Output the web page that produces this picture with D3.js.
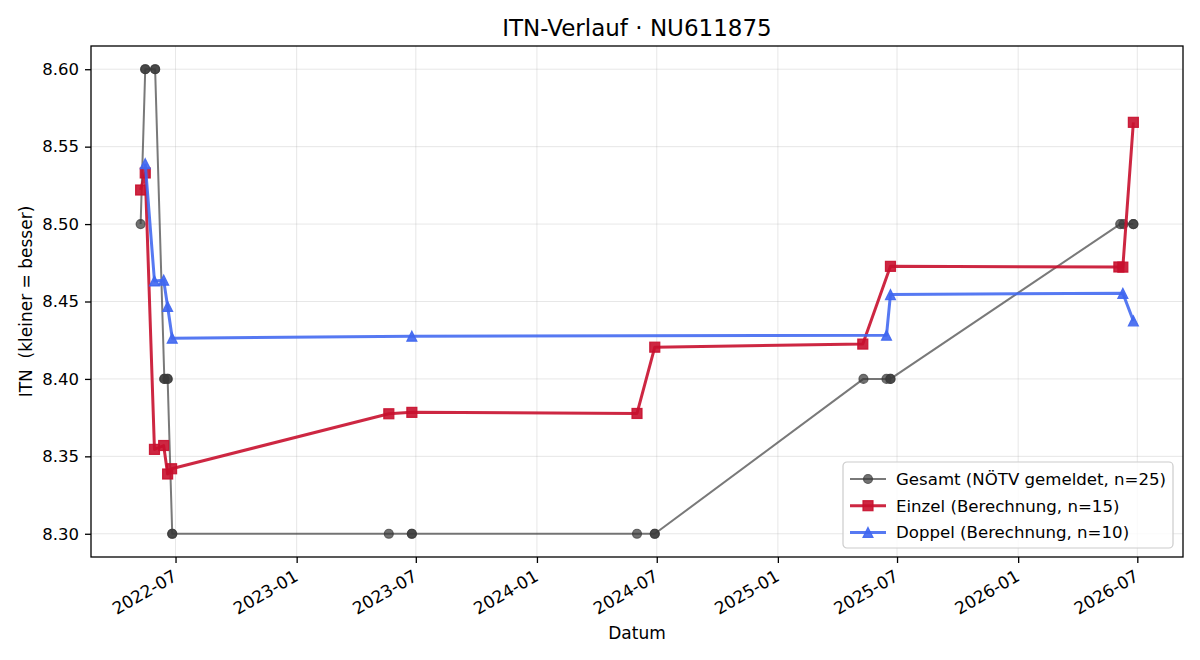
<!DOCTYPE html>
<html>
<head>
<meta charset="utf-8">
<script src="https://cdn.jsdelivr.net/npm/d3@7"></script>
<style>
  body { margin: 0; background: #fff; }
  text { font-family: "DejaVu Sans", sans-serif; }
</style>
</head>
<body>
<div id="chart"></div>
<script>
// data
var gesamtDates = ["2022-05-09", "2022-05-16", "2022-05-16", "2022-05-31", "2022-05-31",
  "2022-06-14", "2022-06-14", "2022-06-19", "2022-06-19", "2022-06-26", "2022-06-26",
  "2023-05-21", "2023-06-25", "2023-06-25", "2024-06-01", "2024-06-28", "2024-06-28",
  "2025-05-11", "2025-06-15", "2025-06-21", "2025-06-21",
  "2026-06-05", "2026-06-10", "2026-06-25", "2026-06-25"];
var gesamtValues = [8.50, 8.60, 8.60, 8.60, 8.60,
  8.40, 8.40, 8.40, 8.40, 8.30, 8.30,
  8.30, 8.30, 8.30, 8.30, 8.30, 8.30,
  8.40, 8.40, 8.40, 8.40,
  8.50, 8.50, 8.50, 8.50];

var einzelDates = ["2022-05-09", "2022-05-16", "2022-05-30", "2022-06-13", "2022-06-19",
  "2022-06-25", "2023-05-21", "2023-06-25", "2024-06-01", "2024-06-28",
  "2025-05-10", "2025-06-21", "2026-06-03", "2026-06-09", "2026-06-25"];
var einzelValues = [8.522, 8.533, 8.3545, 8.357, 8.3386,
  8.342, 8.3775, 8.3784, 8.3777, 8.4205,
  8.4225, 8.4727, 8.4723, 8.4722, 8.5657];

var doppelDates = ["2022-05-16", "2022-05-30", "2022-06-13", "2022-06-19", "2022-06-26",
  "2023-06-25", "2025-06-15", "2025-06-21", "2026-06-09", "2026-06-25"];
var doppelValues = [8.539, 8.4633, 8.4638, 8.4468, 8.4263,
  8.4276, 8.4282, 8.4545, 8.4553, 8.4375];

var yTicks = [8.30, 8.35, 8.40, 8.45, 8.50, 8.55, 8.60];
var xTickLabels = ["2022-07", "2023-01", "2023-07", "2024-01", "2024-07",
  "2025-01", "2025-07", "2026-01", "2026-07"];
var seriesNames = ["Gesamt (NÖTV gemeldet, n=25)", "Einzel (Berechnung, n=15)", "Doppel (Berechnung, n=10)"];

var margin = {top: 46, right: 17, bottom: 103, left: 91},
  width = 1200 - margin.left - margin.right,
  height = 660 - margin.top - margin.bottom;

var parse = d3.timeParse("%Y-%m-%d");
function zip(ds, vs) { return ds.map(function(d, i) { return {date: parse(d), value: vs[i]}; }); }

var series = [
  {name: seriesNames[0], data: zip(gesamtDates, gesamtValues), color: "#3a3a3a", lw: 2, lop: 0.68, mop: 0.72, shape: "circle"},
  {name: seriesNames[1], data: zip(einzelDates, einzelValues), color: "#c8102e", lw: 3, lop: 0.9, mop: 0.9, shape: "square"},
  {name: seriesNames[2], data: zip(doppelDates, doppelValues), color: "#3f66f0", lw: 3, lop: 0.88, mop: 0.9, shape: "triangle"}
];

var svg = d3.select("#chart")
  .append("svg")
  .attr("width", 1200)
  .attr("height", 660);

var g = svg.append("g")
  .attr("transform", "translate(" + margin.left + "," + margin.top + ")");

// matplotlib-like 5% padding
var allPts = d3.merge(series.map(function(s) { return s.data; }));
var xExt = d3.extent(allPts, function(d) { return d.date; });
var xPad = (xExt[1] - xExt[0]) * 0.05;
var x = d3.scaleTime()
  .domain([new Date(+xExt[0] - xPad), new Date(+xExt[1] + xPad)])
  .range([0, width]);

var yExt = d3.extent(allPts, function(d) { return d.value; });
var yPad = (yExt[1] - yExt[0]) * 0.05;
var y = d3.scaleLinear()
  .domain([yExt[0] - yPad, yExt[1] + yPad])
  .range([height, 0]);

var xTicks = xTickLabels.map(function(t) { return d3.timeParse("%Y-%m")(t); });

// grid
g.append("g")
  .selectAll("line.gx").data(xTicks).enter().append("line")
  .attr("x1", d => x(d)).attr("x2", d => x(d))
  .attr("y1", 0).attr("y2", height)
  .attr("stroke", "#b0b0b0").attr("stroke-opacity", 0.3).attr("stroke-width", 1);
g.append("g")
  .selectAll("line.gy").data(yTicks).enter().append("line")
  .attr("x1", 0).attr("x2", width)
  .attr("y1", d => y(d)).attr("y2", d => y(d))
  .attr("stroke", "#b0b0b0").attr("stroke-opacity", 0.3).attr("stroke-width", 1);

var clip = svg.append("clipPath").attr("id", "clip")
  .append("rect").attr("width", width).attr("height", height);

var line = d3.line()
  .x(d => x(d.date))
  .y(d => y(d.value));

function drawMarker(sel, shape, sz) {
  if (shape === "circle") {
    sel.append("circle").attr("r", sz / 2);
  } else if (shape === "square") {
    sel.append("rect").attr("x", -sz / 2).attr("y", -sz / 2).attr("width", sz).attr("height", sz);
  } else {
    sel.append("path").attr("d", "M0," + (-sz / 2) + "L" + (sz / 2) + "," + (sz / 2) + "L" + (-sz / 2) + "," + (sz / 2) + "Z");
  }
}
var markerSize = {circle: 9, square: 10, triangle: 10};

series.forEach(function(s) {
  var sg = g.append("g").attr("clip-path", "url(#clip)");
  sg.append("path")
    .datum(s.data)
    .attr("fill", "none")
    .attr("stroke", s.color)
    .attr("stroke-opacity", s.lop)
    .attr("stroke-width", s.lw)
    .attr("stroke-linejoin", "round")
    .attr("d", line);
  s.data.forEach(function(d) {
    var m = sg.append("g")
      .attr("transform", "translate(" + x(d.date) + "," + y(d.value) + ")")
      .attr("fill", s.color)
      .attr("fill-opacity", s.mop)
      .attr("stroke", s.color)
      .attr("stroke-opacity", s.mop)
      .attr("stroke-width", 1.2);
    drawMarker(m, s.shape, markerSize[s.shape]);
  });
});

// axes
var xAxis = g.append("g")
  .attr("transform", "translate(0," + height + ")")
  .call(d3.axisBottom(x).tickValues(xTicks).tickFormat(d3.timeFormat("%Y-%m")).tickSize(6).tickPadding(4));
xAxis.selectAll("text")
  .attr("font-size", "17px")
  .attr("fill", "#000")
  .attr("text-anchor", "end")
  .attr("y", 0)
  .attr("dy", "0.72em")
  .attr("transform", "translate(-4,12) rotate(-30)");

var yAxis = g.append("g")
  .call(d3.axisLeft(y).tickValues(yTicks).tickFormat(d3.format(".2f")).tickSize(6).tickPadding(6));
yAxis.selectAll("text").attr("font-size", "16.5px").attr("fill", "#000");

[xAxis, yAxis].forEach(function(a) {
  a.select(".domain").remove();
  a.selectAll(".tick line").attr("stroke", "#000").attr("stroke-width", 1.3);
  a.attr("font-family", null);
});

// spines
g.append("rect")
  .attr("width", width).attr("height", height)
  .attr("fill", "none").attr("stroke", "#000").attr("stroke-width", 1.3);

// titles
svg.append("text")
  .attr("x", margin.left + width / 2).attr("y", 36)
  .attr("text-anchor", "middle")
  .attr("font-size", "23px")
  .text("ITN-Verlauf · NU611875");

svg.append("text")
  .attr("x", margin.left + width / 2).attr("y", 639)
  .attr("text-anchor", "middle")
  .attr("font-size", "17px")
  .text("Datum");

svg.append("text")
  .attr("transform", "translate(32," + (margin.top + height / 2) + ") rotate(-90)")
  .attr("text-anchor", "middle")
  .attr("font-size", "17px")
  .attr("xml:space", "preserve")
  .style("white-space", "pre")
  .text("ITN  (kleiner = besser)");

// legend
var lg = svg.append("g").attr("transform", "translate(843,462)");
lg.append("rect")
  .attr("width", 330).attr("height", 86)
  .attr("rx", 4)
  .attr("fill", "#fff").attr("fill-opacity", 0.8)
  .attr("stroke", "#cccccc").attr("stroke-width", 1.2);

series.forEach(function(s, i) {
  var row = lg.append("g").attr("transform", "translate(0," + (17 + i * 26.7) + ")");
  row.append("line")
    .attr("x1", 7).attr("x2", 43)
    .attr("stroke", s.color).attr("stroke-opacity", s.lop)
    .attr("stroke-width", s.lw);
  var m = row.append("g")
    .attr("transform", "translate(25,0)")
    .attr("fill", s.color).attr("fill-opacity", s.mop)
    .attr("stroke", s.color).attr("stroke-opacity", s.mop)
    .attr("stroke-width", 1.2);
  drawMarker(m, s.shape, markerSize[s.shape]);
  row.append("text")
    .attr("x", 53).attr("dy", "0.36em")
    .attr("font-size", "16.6px")
    .text(s.name);
});
</script>
</body>
</html>
